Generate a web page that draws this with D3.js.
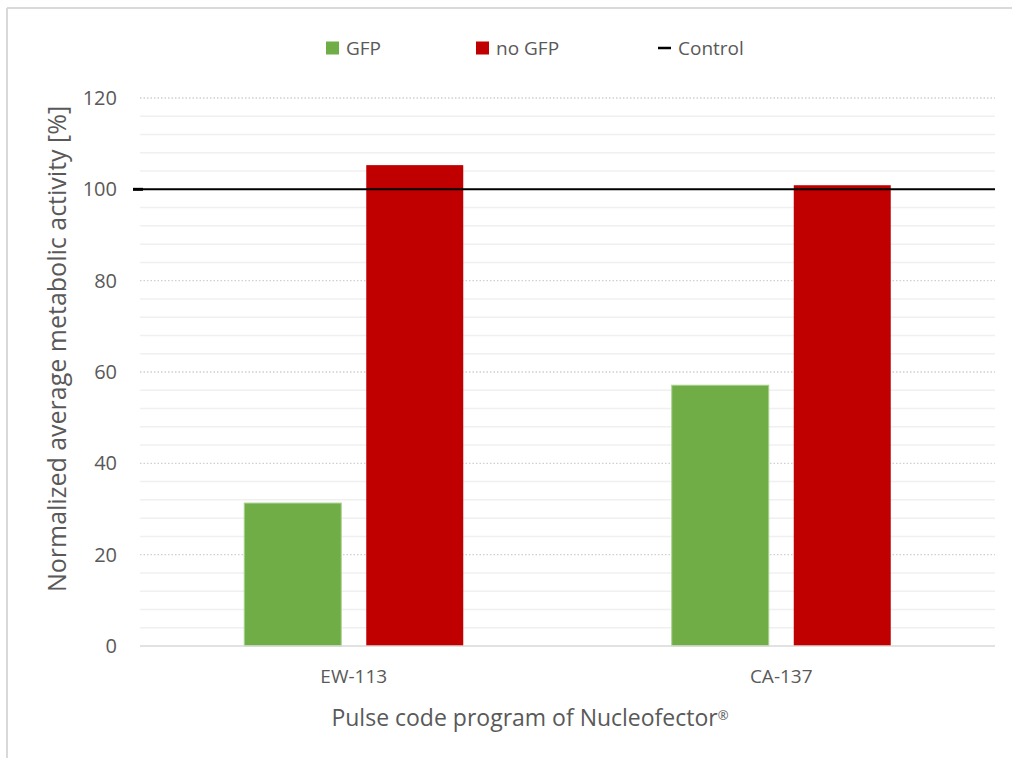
<!DOCTYPE html>
<html>
<head>
<meta charset="utf-8">
<script src="https://cdn.jsdelivr.net/npm/d3@7"></script>
<style>
  html, body { margin: 0; padding: 0; background: #fff; }
  svg { display: block; }
  text { font-family: "Open Sans", "Noto Sans", sans-serif; fill: #595959; }
</style>
</head>
<body>
<svg id="chart" width="1012" height="758"></svg>
<script>
// Pulse code programs and normalized metabolic activity (%)
const categories = ["EW-113", "CA-137"];
const seriesNames = ["GFP", "no GFP"];
const gfpValues = [31.3, 57.1];
const noGfpValues = [105.3, 100.9];
const controlValue = 100;
const yTicks = [0, 20, 40, 60, 80, 100, 120];
const yMinorStep = 4;
const colors = { "GFP": "#70ad47", "no GFP": "#c00000", "Control": "#000000" };

const svg = d3.select("#chart");
const W = 1012, H = 758;
const plot = { left: 140, right: 995, top: 98, bottom: 646 };

// chart frame (left and top edges visible)
svg.append("line").attr("x1", 7).attr("x2", 7).attr("y1", 8).attr("y2", H)
  .attr("stroke", "#d9d9d9").attr("stroke-width", 2);
svg.append("line").attr("x1", 7).attr("x2", W).attr("y1", 8).attr("y2", 8)
  .attr("stroke", "#d9d9d9").attr("stroke-width", 2);

const y = d3.scaleLinear().domain([0, 120]).range([plot.bottom, plot.top]);
const x0 = d3.scaleBand().domain(categories).range([plot.left, plot.right]);
const groupWidth = 219;
const x1 = d3.scaleBand().domain(seriesNames).range([0, groupWidth]).paddingInner(0.205);

// minor gridlines
const minor = d3.range(0, 121, yMinorStep).filter(v => v % 20 !== 0);
svg.append("g").selectAll("line").data(minor).join("line")
  .attr("x1", plot.left).attr("x2", plot.right)
  .attr("y1", d => y(d)).attr("y2", d => y(d))
  .attr("stroke", "#f0f0f0").attr("stroke-width", 1.5);

// major gridlines (dotted)
svg.append("g").selectAll("line").data(yTicks.filter(v => v > 0)).join("line")
  .attr("x1", plot.left).attr("x2", plot.right)
  .attr("y1", d => y(d)).attr("y2", d => y(d))
  .attr("stroke", "#d0d0d0").attr("stroke-width", 1.3)
  .attr("stroke-dasharray", "1.5,2");

// y axis tick labels
const yAxis = d3.axisLeft(y).tickValues(yTicks).tickSize(0).tickPadding(0);
const gy = svg.append("g").attr("transform", `translate(${117},0)`).call(yAxis);
gy.select(".domain").remove();
gy.selectAll("text").style("font-size", "20px").attr("fill", "#595959")
  .attr("font-family", null);

// bars
const data = categories.map((c, i) => ({ cat: c, vals: [
  { name: "GFP", v: gfpValues[i] },
  { name: "no GFP", v: noGfpValues[i] }
]}));
const groups = svg.append("g").selectAll("g").data(data).join("g")
  .attr("transform", d => `translate(${x0(d.cat) + x0.bandwidth() / 2 - groupWidth / 2},0)`);
groups.selectAll("rect").data(d => d.vals).join("rect")
  .attr("x", d => x1(d.name))
  .attr("width", x1.bandwidth())
  .attr("y", d => y(d.v))
  .attr("height", d => y(0) - y(d.v))
  .attr("fill", d => colors[d.name])
  .attr("stroke", d => d.name === "GFP" ? "#a9d18e" : "none")
  .attr("stroke-width", 1);

// x axis baseline
svg.append("line").attr("x1", plot.left).attr("x2", plot.right)
  .attr("y1", y(0)).attr("y2", y(0))
  .attr("stroke", "#d9d9d9").attr("stroke-width", 1.5);

// category labels
const xAxis = d3.axisBottom(x0).tickSize(0).tickPadding(0);
const gx = svg.append("g").attr("transform", `translate(0,${676})`).call(xAxis);
gx.select(".domain").remove();
gx.selectAll("text").style("font-size", "19px").attr("fill", "#595959")
  .attr("font-family", null).attr("dy", "0.35em").attr("y", 0);

// control line
svg.append("line").attr("x1", 133).attr("x2", plot.right)
  .attr("y1", y(controlValue)).attr("y2", y(controlValue))
  .attr("stroke", colors.Control).attr("stroke-width", 2);
svg.append("line").attr("x1", 133).attr("x2", 143)
  .attr("y1", y(controlValue)).attr("y2", y(controlValue))
  .attr("stroke", colors.Control).attr("stroke-width", 3);

// axis titles
const xt = svg.append("text").attr("x", 530).attr("y", 718)
  .attr("dy", "0.35em").attr("text-anchor", "middle").style("font-size", "23px");
xt.append("tspan").text("Pulse code program of Nucleofector");
xt.append("tspan").attr("dy", "-0.45em").style("font-size", "13px").text("®");
svg.append("text").attr("transform", `translate(57,${349}) rotate(-90)`)
  .attr("dy", "0.35em").attr("text-anchor", "middle").style("font-size", "25px")
  .text("Normalized average metabolic activity [%]");

// legend
const legend = [
  { name: "GFP", x: 326, kind: "rect" },
  { name: "no GFP", x: 476, kind: "rect" },
  { name: "Control", x: 658, kind: "line" }
];
const lg = svg.append("g").selectAll("g").data(legend).join("g")
  .attr("transform", d => `translate(${d.x},48)`);
lg.filter(d => d.kind === "rect").append("rect")
  .attr("x", 0).attr("y", -6.5).attr("width", 13).attr("height", 13)
  .attr("fill", d => colors[d.name]);
lg.filter(d => d.kind === "line").append("line")
  .attr("x1", 0).attr("x2", 13).attr("y1", 0).attr("y2", 0)
  .attr("stroke", d => colors[d.name]).attr("stroke-width", 2.5);
lg.append("text").attr("x", 20).attr("dy", "0.35em").style("font-size", "19px")
  .text(d => d.name);
</script>
</body>
</html>
